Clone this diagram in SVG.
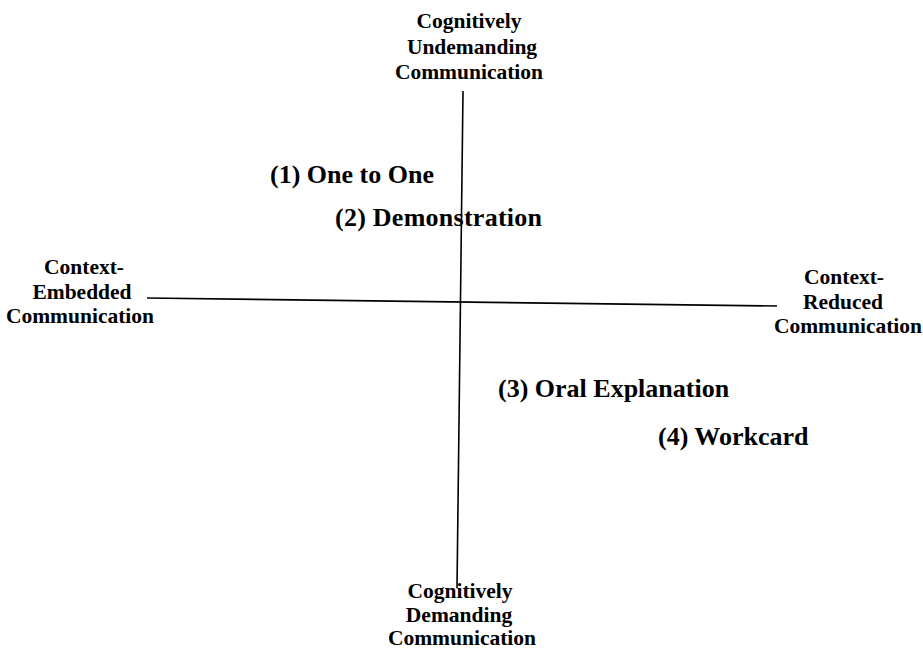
<svg xmlns="http://www.w3.org/2000/svg" width="923" height="651" viewBox="0 0 923 651">
<style>
text{font-family:"Liberation Serif","Times New Roman",serif;font-weight:bold;fill:#000}
.ax{font-size:21.5px;text-anchor:middle}
.it{font-size:26px}
.axis{stroke:#000;stroke-width:1.6;fill:none}
</style>
<rect width="923" height="651" fill="#fff"/>
<g id="connectors">
<line class="axis" x1="463" y1="91" x2="457" y2="588"/>
<line class="axis" x1="147" y1="298" x2="777" y2="306"/>
</g>
<g id="top-label">
<text class="ax" x="469" y="28">Cognitively</text>
<text class="ax" x="472" y="54">Undemanding</text>
<text class="ax" x="469" y="79">Communication</text>
</g>
<g id="bottom-label">
<text class="ax" x="460" y="598">Cognitively</text>
<text class="ax" x="459" y="622">Demanding</text>
<text class="ax" x="462" y="645">Communication</text>
</g>
<g id="left-label">
<text class="ax" x="84" y="274">Context-</text>
<text class="ax" x="82" y="299">Embedded</text>
<text class="ax" x="80" y="323">Communication</text>
</g>
<g id="right-label">
<text class="ax" x="844" y="284">Context-</text>
<text class="ax" x="843" y="309">Reduced</text>
<text class="ax" x="848" y="333">Communication</text>
</g>
<g id="item1"><text class="it" x="270" y="183">(1) One to One</text></g>
<g id="item2"><text class="it" x="335" y="226" textLength="207">(2) Demonstration</text></g>
<g id="item3"><text class="it" x="498" y="397">(3) Oral Explanation</text></g>
<g id="item4"><text class="it" x="658" y="445">(4) Workcard</text></g>
</svg>
